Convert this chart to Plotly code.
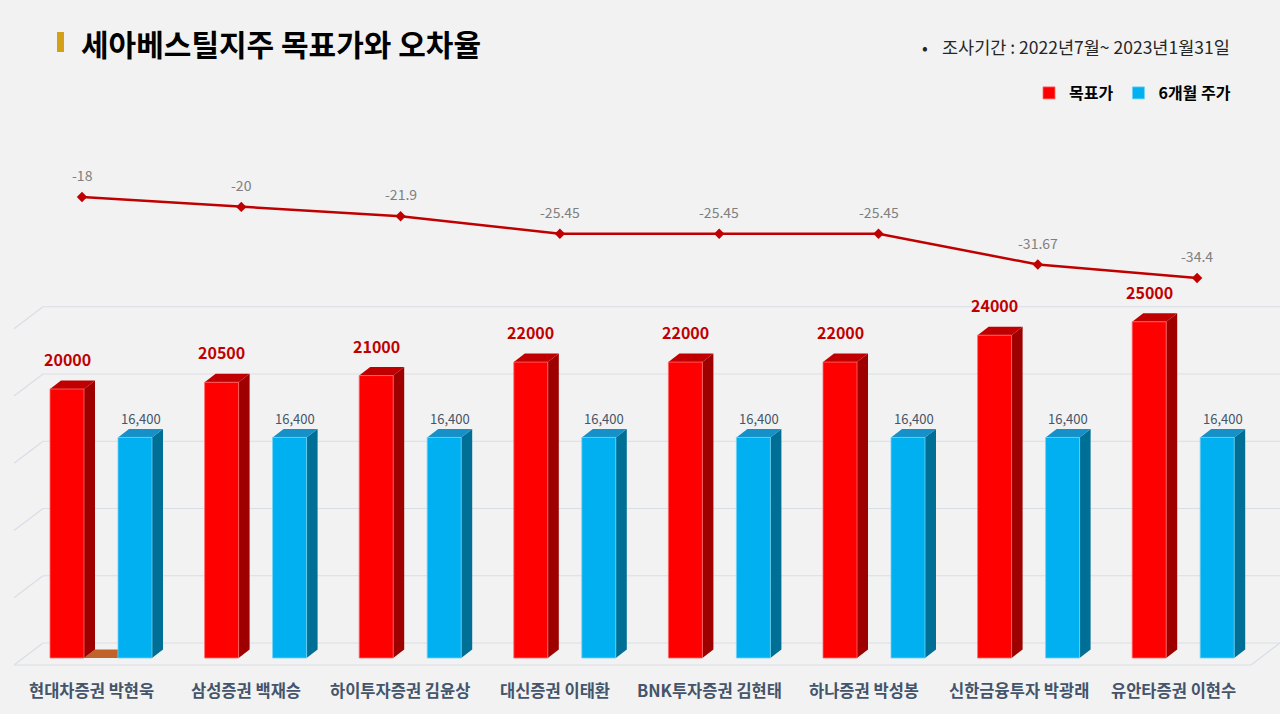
import plotly.graph_objects as go

# ---------------- data ----------------
categories = ["현대차증권 박현욱", "삼성증권 백재승", "하이투자증권 김윤상", "대신증권 이태환",
              "BNK투자증권 김현태", "하나증권 박성봉", "신한금융투자 박광래", "유안타증권 이현수"]
target_price = [20000, 20500, 21000, 22000, 22000, 22000, 24000, 25000]
stock_price_6m = [16400, 16400, 16400, 16400, 16400, 16400, 16400, 16400]
error_rate = [-18, -20, -21.9, -25.45, -25.45, -25.45, -31.67, -34.4]
error_labels = ["-18", "-20", "-21.9", "-25.45", "-25.45", "-25.45", "-31.67", "-34.4"]
target_labels = ["20000", "20500", "21000", "22000", "22000", "22000", "24000", "25000"]
price_labels = ["16,400", "16,400", "16,400", "16,400", "16,400", "16,400", "16,400", "16,400"]
grid_values = [0, 5000, 10000, 15000, 20000, 25000]

# ---------------- layout calibration (pixels) ----------------
W, H = 1280, 714
PXU = 154.6          # pixels per category step
X0PX = 91            # pixel of category 0 centre
PYV = 0.01345        # pixels per value unit
Y0PX = 658           # pixel of value 0

def xd(p):
    return (p - X0PX) / PXU

def yd(px_from_zero):
    return px_from_zero / PYV

BAR_W = 34 / PXU
RED_OFF = -41 / PXU
BLUE_OFF = 27 / PXU
DX = 11 / PXU
DY = yd(8.5)

RED, RED_TOP, RED_SIDE = "#ff0000", "#c00000", "#9e0000"
BLUE, BLUE_TOP, BLUE_SIDE = "#00b0f0", "#1590c8", "#006f96"
GRID = "#d9dde6"
BG = "#f2f2f2"

idx = list(range(len(categories)))

fig = go.Figure()

fig.add_trace(go.Bar(
    x=idx, y=target_price, name="목표가", offset=RED_OFF, width=BAR_W,
    marker=dict(color=RED, line=dict(color="#ff6a6a", width=0.8)),
    hoverinfo="skip"))
fig.add_trace(go.Bar(
    x=idx, y=stock_price_6m, name="6개월 주가", offset=BLUE_OFF, width=BAR_W,
    marker=dict(color=BLUE, line=dict(color="#6fd0f5", width=0.8)),
    hoverinfo="skip"))

fig.add_trace(go.Scatter(
    x=idx, y=error_rate, xaxis="x2", yaxis="y2", mode="lines+markers",
    line=dict(color="#c00000", width=2.5),
    marker=dict(symbol="diamond", size=8, color="#c00000"),
    showlegend=False, hoverinfo="skip"))

shapes = []
# back wall gridlines + left wall diagonals
BACK_DY = yd(15)
for v in grid_values:
    shapes.append(dict(type="line", xref="x", yref="y", x0=xd(43), x1=xd(W), y0=v + BACK_DY, y1=v + BACK_DY,
                       line=dict(color=GRID, width=1.2), layer="below"))
    shapes.append(dict(type="line", xref="x", yref="y", x0=xd(14), x1=xd(43), y0=v + yd(-7), y1=v + BACK_DY,
                       line=dict(color=GRID, width=1.2), layer="below"))
# floor front and right edges
shapes.append(dict(type="line", xref="x", yref="y", x0=xd(14), x1=xd(1251), y0=yd(-7), y1=yd(-7),
                   line=dict(color=GRID, width=1.2), layer="below"))
shapes.append(dict(type="line", xref="x", yref="y", x0=xd(1251), x1=xd(W), y0=yd(-7), y1=BACK_DY,
                   line=dict(color=GRID, width=1.2), layer="below"))

def path(pts):
    return "M " + " L ".join(f"{x},{y}" for x, y in pts) + " Z"

# small brown floor piece in first group
bx0 = 0 + RED_OFF + BAR_W
bx1 = 0 + BLUE_OFF
shapes.append(dict(type="path", xref="x", yref="y", layer="below",
                   path=path([(bx0, 0), (bx1 + DX, 0), (bx1 + DX, DY), (bx0 + DX, DY)]),
                   fillcolor="#c0622a", line=dict(width=0)))

# 3D faces of bars
for vals, off, top_c, side_c in [(target_price, RED_OFF, RED_TOP, RED_SIDE),
                                 (stock_price_6m, BLUE_OFF, BLUE_TOP, BLUE_SIDE)]:
    for i, v in zip(idx, vals):
        x0 = i + off
        x1 = x0 + BAR_W
        shapes.append(dict(type="path", xref="x", yref="y", layer="below",
                           path=path([(x1, 0), (x1 + DX, DY), (x1 + DX, v + DY), (x1, v)]),
                           fillcolor=side_c, line=dict(width=0)))
        shapes.append(dict(type="path", xref="x", yref="y", layer="below",
                           path=path([(x0, v), (x1, v), (x1 + DX, v + DY), (x0 + DX, v + DY)]),
                           fillcolor=top_c, line=dict(width=0)))

# title marker
shapes.append(dict(type="rect", xref="paper", yref="paper", x0=57 / W, x1=64 / W,
                   y0=1 - 52 / H, y1=1 - 32 / H, fillcolor="#d4a017", line=dict(width=0)))

annotations = []
FONT = "Noto Sans CJK KR"
# error-rate labels
for i, v, t in zip(idx, error_rate, error_labels):
    annotations.append(dict(x=i, y=v, xref="x2", yref="y2", text=t, showarrow=False, yshift=22,
                            font=dict(family=FONT, size=14, color="#7f7f7f")))
# bar labels
for i, v, t in zip(idx, target_price, target_labels):
    annotations.append(dict(x=i + RED_OFF + BAR_W / 2, y=v, xref="x", yref="y", text=t, showarrow=False,
                            yshift=30, font=dict(family=FONT, size=16, color="#c00000", weight="bold")))
for i, v, t in zip(idx, stock_price_6m, price_labels):
    annotations.append(dict(x=i + BLUE_OFF + (BAR_W + DX) / 2, y=v, xref="x", yref="y", text=t,
                            showarrow=False, yshift=19, font=dict(family=FONT, size=13, color="#44546a")))
# category labels
for i, c in zip(idx, categories):
    annotations.append(dict(x=i, y=1 - 690 / H, xref="x", yref="paper", yanchor="middle", text=c,
                            showarrow=False,
                            font=dict(family=FONT, size=16.5, color="#44546a", weight=600)))
# title and subtitle
annotations.append(dict(x=79 / W, y=1 - 43 / H, xref="paper", yref="paper", xanchor="left", yanchor="middle",
                        text="세아베스틸지주 목표가와 오차율", showarrow=False,
                        font=dict(family=FONT, size=30, color="#000000", weight="bold")))
annotations.append(dict(x=925 / W, y=1 - 47 / H, xref="paper", yref="paper", xanchor="center", yanchor="middle",
                        text="•", showarrow=False,
                        font=dict(family=FONT, size=17, color="#262626")))
annotations.append(dict(x=1232 / W, y=1 - 47 / H, xref="paper", yref="paper", xanchor="right", yanchor="middle",
                        text="조사기간 : 2022년7월~ 2023년1월31일", showarrow=False,
                        font=dict(family=FONT, size=17.5, color="#262626")))

# second axes for the line
X2PX, X2STEP = 82, 159.3
Y2PX, Y2VAL, Y2SCALE = 197, -18, 4.94

def y2v(p):
    return Y2VAL - (p - Y2PX) / Y2SCALE

fig.update_layout(
    width=W, height=H, autosize=False,
    margin=dict(l=0, r=0, t=0, b=0),
    paper_bgcolor=BG, plot_bgcolor=BG,
    barmode="overlay",
    xaxis=dict(range=[xd(0), xd(W)], visible=False, fixedrange=True),
    yaxis=dict(range=[yd(Y0PX - H), yd(Y0PX)], visible=False, fixedrange=True),
    xaxis2=dict(range=[(0 - X2PX) / X2STEP, (W - X2PX) / X2STEP], overlaying="x", anchor="y2",
                visible=False, fixedrange=True),
    yaxis2=dict(range=[y2v(H), y2v(0)], overlaying="y", anchor="x2", visible=False, fixedrange=True),
    shapes=shapes,
    annotations=annotations,
    showlegend=True,
    legend=dict(orientation="h", x=1236 / W, xanchor="right", y=1 - 93 / H, yanchor="middle",
                bgcolor="rgba(0,0,0,0)", itemwidth=30, traceorder="normal",
                font=dict(family=FONT, size=16, color="#000000", weight="bold")),
    font=dict(family=FONT),
)

fig.write_html("out.html", config={"displayModeBar": False},
               post_script="document.body.style.margin='0';")
